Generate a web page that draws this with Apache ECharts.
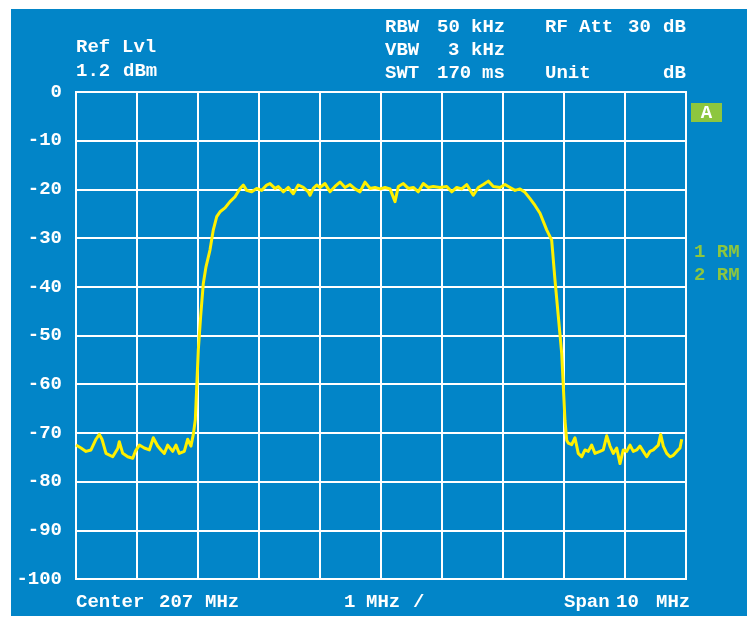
<!DOCTYPE html>
<html>
<head>
<meta charset="utf-8">
<script src="https://cdn.jsdelivr.net/npm/echarts@6/dist/echarts.min.js"></script>
<style>
html,body{margin:0;padding:0;background:#fff;}
#bg{position:absolute;left:11px;top:9px;width:736px;height:607px;background:#0285C8;}
#chart{position:absolute;left:0;top:0;width:747px;height:617px;}
</style>
</head>
<body>
<div id="bg"></div>
<div id="chart"></div>
<script>
// Frequency (MHz) of each trace sample
const freqMHz = [
202.000,202.028,202.082,202.164,202.246,202.328,202.382,202.426,202.492,202.602,
202.684,202.710,202.766,202.848,202.930,202.972,203.038,203.120,203.202,203.267,
203.339,203.393,203.448,203.503,203.585,203.639,203.693,203.775,203.831,203.885,
203.923,203.956,203.979,204.005,204.044,204.087,204.131,204.197,204.251,204.307,
204.361,204.443,204.525,204.607,204.689,204.743,204.798,204.880,204.962,205.044,
205.126,205.180,205.262,205.316,205.398,205.480,205.562,205.644,205.726,205.808,
205.836,205.890,205.946,206.000,206.082,206.164,206.246,206.328,206.410,206.492,
206.574,206.656,206.738,206.820,206.902,206.984,207.066,207.148,207.230,207.284,
207.366,207.448,207.530,207.611,207.693,207.775,207.857,207.967,208.077,208.159,
208.241,208.323,208.405,208.513,208.595,208.677,208.759,208.841,208.951,209.033,
209.115,209.197,209.279,209.361,209.443,209.525,209.607,209.716,209.798,209.852,
209.907,209.962,209.989,210.016,210.044,210.070,210.126,210.180,210.234,210.290,
210.344,210.398,210.454,210.508,210.590,210.644,210.700,210.754,210.808,210.864,
210.918,210.972,211.028,211.082,211.136,211.192,211.246,211.300,211.356,211.410,
211.464,211.546,211.585,211.628,211.684,211.738,211.792,211.848,211.902,211.930
];
// Level (dB) of each trace sample
const levelDb = [
-72.5,-72.1,-73.1,-73.8,-73.5,-71.3,-70.3,-71.3,-74.2,-74.9,
-73.2,-71.8,-74.2,-74.9,-75.2,-73.8,-72.5,-73.1,-73.5,-71.0,
-72.7,-73.5,-74.2,-72.5,-73.8,-72.5,-74.2,-73.8,-71.3,-72.7,
-70.3,-67.3,-60.5,-53.0,-46.0,-39.3,-35.9,-32.4,-28.3,-25.6,
-24.6,-23.8,-22.5,-21.5,-19.8,-19.1,-20.2,-20.5,-19.8,-20.2,
-19.1,-18.8,-19.8,-19.4,-20.5,-19.6,-20.9,-19.1,-19.6,-20.5,
-21.2,-19.8,-19.1,-19.6,-18.8,-20.5,-19.4,-18.5,-19.6,-19.0,
-19.9,-20.5,-18.5,-19.8,-19.6,-19.9,-19.6,-19.9,-22.5,-19.4,
-18.8,-19.8,-19.6,-20.5,-18.8,-19.6,-19.4,-19.6,-19.4,-20.5,
-19.6,-19.9,-19.0,-21.2,-19.6,-19.0,-18.3,-19.4,-19.6,-19.0,
-19.6,-20.2,-19.9,-20.6,-21.9,-23.3,-24.9,-28.3,-30.4,-38.6,
-46.1,-53.6,-60.5,-67.4,-71.5,-72.1,-72.4,-71.0,-74.2,-74.9,
-73.5,-73.8,-72.5,-74.2,-73.8,-73.5,-70.6,-72.7,-74.2,-73.1,
-76.3,-73.5,-73.8,-72.5,-73.8,-73.5,-72.7,-73.8,-74.9,-73.8,
-73.5,-72.5,-70.3,-72.7,-74.2,-74.9,-74.6,-73.8,-73.1,-71.3
];
const yTicks = [0,-10,-20,-30,-40,-50,-60,-70,-80,-90,-100];

const FONT = '"Liberation Mono", "DejaVu Sans Mono", monospace';
const W = '#ffffff', G = '#8DC63F';
function t(x, y, s, color, align) {
  return {type:'text', x:x, y:y, z:10, style:{text:s, fill:color||W, font:'bold 19px ' + FONT, textAlign:align||'left', textVerticalAlign:'middle'}};
}
const texts = [
  t(76,47,'Ref'), t(122,47,'Lvl'),
  t(76,71,'1.2'), t(123,71,'dBm'),
  t(385,27,'RBW'), t(437,27,'50'), t(471,27,'kHz'),
  t(385,50,'VBW'), t(448,50,'3'), t(471,50,'kHz'),
  t(385,73,'SWT'), t(437,73,'170'), t(482,73,'ms'),
  t(545,27,'RF'), t(579,27,'Att'), t(628,27,'30'), t(663,27,'dB'),
  t(545,73,'Unit'), t(663,73,'dB'),
  t(76,602,'Center'), t(159,602,'207'), t(205,602,'MHz'),
  t(344,602,'1'), t(366,602,'MHz'), t(413,602,'/'),
  t(564,602,'Span'), t(616,602,'10'), t(656,602,'MHz'),
  {type:'rect', z:9, shape:{x:691,y:103,width:31,height:19}, style:{fill:G}},
  t(706.5,113,'A',W,'center'),
  t(694,252,'1 RM',G), t(694,275,'2 RM',G)
];

const chart = echarts.init(document.getElementById('chart'));
chart.setOption({
  animation:false,
  grid:{left:76,right:61,top:92,bottom:38,show:true,borderColor:W,borderWidth:2,backgroundColor:'transparent'},
  xAxis:{type:'value',min:202,max:212,interval:1,
    axisLine:{show:false},axisTick:{show:false},axisLabel:{show:false},
    splitLine:{show:true,lineStyle:{color:W,width:2}}},
  yAxis:{type:'value',min:-100,max:0,interval:10,
    axisLine:{show:false},axisTick:{show:false},
    axisLabel:{color:W,fontFamily:FONT,fontWeight:'bold',fontSize:19,margin:14,
      customValues:yTicks, formatter:v=>String(v)},
    splitLine:{show:true,lineStyle:{color:W,width:2}}},
  series:[{type:'line',showSymbol:false,smooth:false,
    lineStyle:{color:'#FFF000',width:3,join:'round'},
    data:freqMHz.map((f,i)=>[f,levelDb[i]])}],
  graphic:texts
});
</script>
</body>
</html>
